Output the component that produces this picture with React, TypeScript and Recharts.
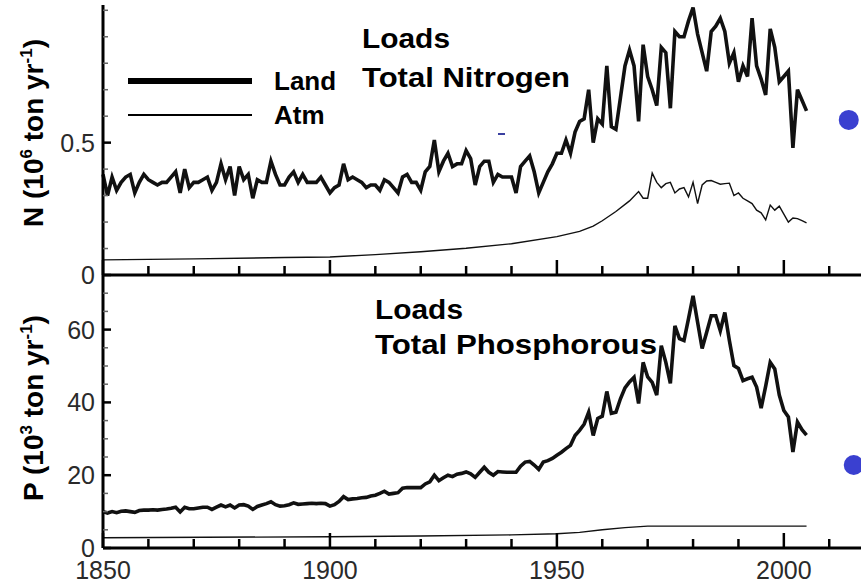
import React from 'react';
import { ComposedChart, Line, Scatter, XAxis, YAxis } from 'recharts';

// annual loads 1850-2005
const years = Array.from({ length: 156 }, (_, i) => 1850 + i);

const nLand = [
  0.38, 0.30, 0.37, 0.32, 0.35, 0.37, 0.38, 0.31, 0.35, 0.38,
  0.36, 0.35, 0.34, 0.35, 0.35, 0.37, 0.39, 0.31, 0.40, 0.33,
  0.35, 0.35, 0.36, 0.37, 0.32, 0.35, 0.42, 0.36, 0.41, 0.30,
  0.41, 0.36, 0.38, 0.29, 0.36, 0.35, 0.35, 0.43, 0.38, 0.34,
  0.34, 0.37, 0.39, 0.35, 0.38, 0.35, 0.35, 0.35, 0.37, 0.34,
  0.31, 0.33, 0.34, 0.42, 0.36, 0.37, 0.36, 0.35, 0.33, 0.34,
  0.34, 0.32, 0.36, 0.35, 0.33, 0.31, 0.37, 0.38, 0.35, 0.35,
  0.32, 0.39, 0.41, 0.51, 0.39, 0.43, 0.46, 0.41, 0.42, 0.42,
  0.47, 0.44, 0.34, 0.41, 0.43, 0.43, 0.35, 0.38, 0.37, 0.37,
  0.37, 0.31, 0.41, 0.43, 0.45, 0.39, 0.31, 0.35, 0.39, 0.42,
  0.46, 0.46, 0.51, 0.46, 0.54, 0.58, 0.59, 0.70, 0.50, 0.59,
  0.57, 0.79, 0.56, 0.55, 0.67, 0.79, 0.85, 0.79, 0.58, 0.87,
  0.75, 0.70, 0.64, 0.86, 0.84, 0.63, 0.92, 0.90, 0.90, 0.96,
  1.01, 0.91, 0.84, 0.77, 0.92, 0.94, 0.97, 0.92, 0.80, 0.84,
  0.73, 0.79, 0.75, 0.97, 0.79, 0.74, 0.68, 0.93, 0.86, 0.73,
  0.75, 0.77, 0.48, 0.70, 0.66, 0.62,
];

const pLand = [
  10.0, 9.6, 10.0, 9.7, 10.1, 10.2, 10.0, 9.8, 10.3, 10.4,
  10.4, 10.5, 10.4, 10.6, 10.7, 10.9, 11.2, 9.9, 11.2, 10.8,
  10.8, 11.0, 11.2, 11.2, 10.6, 11.2, 11.8, 11.3, 11.8, 11.0,
  11.8, 11.9, 11.5, 10.6, 11.4, 11.8, 12.2, 12.7, 11.9, 11.5,
  11.6, 11.9, 12.4, 12.0, 12.1, 12.2, 12.3, 12.2, 12.3, 12.2,
  11.5, 11.9, 12.8, 14.1, 13.3, 13.5, 13.6, 13.8, 13.9, 14.3,
  14.5, 15.0, 15.6, 14.8, 15.0, 15.2, 16.4, 16.6, 16.6, 16.6,
  16.6, 17.6, 18.2, 20.0, 18.5, 19.3, 20.0, 19.6, 20.3, 20.5,
  20.9, 20.4, 19.4, 20.8, 22.2, 20.8, 20.0, 21.0, 20.9, 20.8,
  20.8, 20.8, 22.5, 23.6, 23.8, 22.8, 21.6, 23.6, 24.0, 24.6,
  25.5, 26.3, 27.3, 28.2, 30.9, 32.3, 34.0, 37.3, 30.9, 35.6,
  36.2, 43.0, 37.0, 37.3, 41.0, 44.0, 45.6, 46.9, 39.7, 51.0,
  47.0, 45.5, 42.0, 55.6, 51.0, 45.2, 61.0, 57.5, 57.0, 63.0,
  69.3, 62.0, 54.8, 59.3, 63.8, 63.8, 59.7, 64.7, 57.0, 50.1,
  49.3, 46.0, 46.5, 46.9, 44.2, 38.4, 44.5, 51.0, 49.2, 42.0,
  37.8, 36.0, 26.4, 34.6, 32.5, 31.0,
];

// atmospheric deposition, smooth early part then annual
const nAtmYears = [
  1850, 1870, 1890, 1900, 1910, 1920, 1930, 1940, 1950, 1955, 1958, 1960, 1963, 1966, 1968,
  1969, 1970, 1971, 1972, 1973, 1974, 1975, 1976, 1977, 1978, 1979, 1980, 1981, 1982, 1983,
  1984, 1985, 1986, 1987, 1988, 1989, 1990, 1991, 1992, 1993, 1994, 1995, 1996, 1997, 1998,
  1999, 2000, 2001, 2002, 2003, 2004, 2005,
];
const nAtm = [
  0.057, 0.061, 0.066, 0.068, 0.077, 0.088, 0.101, 0.118, 0.145, 0.165, 0.185, 0.205, 0.24, 0.28, 0.315,
  0.29, 0.29, 0.385, 0.35, 0.33, 0.345, 0.35, 0.31, 0.325, 0.33, 0.295, 0.35, 0.27, 0.34, 0.355,
  0.357, 0.35, 0.343, 0.345, 0.347, 0.30, 0.31, 0.29, 0.28, 0.27, 0.245, 0.235, 0.208, 0.264, 0.245,
  0.26, 0.23, 0.20, 0.215, 0.213, 0.205, 0.197,
];

const pAtmYears = [1850, 1900, 1920, 1940, 1950, 1955, 1960, 1965, 1970, 1980, 1990, 2005];
const pAtm = [2.8, 3.1, 3.3, 3.6, 3.9, 4.3, 5.0, 5.6, 6.0, 6.0, 6.0, 6.0];

const nObsYear = [2014.3];
const nObs = [0.586];
const pObsYear = [2015.4];
const pObs = [22.8];

const yearTicks = [1850, 1860, 1870, 1880, 1890, 1900, 1910, 1920, 1930, 1940, 1950, 1960, 1970, 1980, 1990, 2000, 2010];
const yearLabels = [1850, 1900, 1950, 2000];
const nTicks = [0, 0.1, 0.2, 0.3, 0.4, 0.5, 0.6, 0.7, 0.8, 0.9, 1.0];
const nLabels = [0, 0.5];
const pTicks = [0, 5, 10, 15, 20, 25, 30, 35, 40, 45, 50, 55, 60, 65, 70];
const pLabels = [0, 20, 40, 60];

const pair = (xs: number[], vs: number[]) => xs.map((year, i) => ({ year, value: vs[i] }));

const nLandData = pair(years, nLand);
const pLandData = pair(years, pLand);
const nAtmData = pair(nAtmYears, nAtm);
const pAtmData = pair(pAtmYears, pAtm);
const nObsData = pair(nObsYear, nObs);
const pObsData = pair(pObsYear, pObs);

const FONT = '"Liberation Sans", Arial, sans-serif';
const DOT = '#3a40d0';

const YTick = ({ x, y, payload, labels }: any) => {
  const major = labels.includes(payload.value);
  return (
    <g>
      <line x1={x} x2={x + (major ? 8 : 5)} y1={y} y2={y} stroke={major ? '#000' : '#666'} strokeWidth={major ? 2.5 : 1.5} />
      {major && (
        <text x={x - 8} y={y + 9} textAnchor="end" fontSize={25} fontFamily={FONT} fill="#2a2a2a">
          {payload.value}
        </text>
      )}
    </g>
  );
};

const XTick = ({ x, y, payload, showLabel }: any) => {
  const major = yearLabels.includes(payload.value);
  return (
    <g>
      <line x1={x} x2={x} y1={y} y2={y - (major ? 15 : 9)} stroke="#000" strokeWidth={2.5} />
      {showLabel && major && (
        <text x={x} y={y + 31} textAnchor="middle" fontSize={25} fontFamily={FONT} fill="#2a2a2a">
          {payload.value}
        </text>
      )}
    </g>
  );
};

const dotShape = (p: any) => <circle cx={p.cx} cy={p.cy} r={10} fill={DOT} />;

export default function App() {
  return (
    <div style={{ position: 'absolute', left: 0, top: 0, width: 861, height: 586, overflow: 'hidden', background: '#fff' }}>
      <div style={{ position: 'absolute', left: 0, top: 0 }}>
        <ComposedChart width={861} height={300} margin={{ top: 5, right: 0, bottom: 0, left: 0 }}>
          <XAxis
            type="number"
            dataKey="year"
            domain={[1850, 2017]}
            ticks={yearTicks}
            interval={0}
            height={25}
            tickSize={0}
            tickMargin={0}
            tickLine={false}
            axisLine={{ stroke: '#000', strokeWidth: 3 }}
            tick={(p: any) => <XTick {...p} showLabel={false} />}
          />
          <YAxis
            type="number"
            domain={[0, 1.02]}
            ticks={nTicks}
            interval={0}
            width={103}
            tickSize={0}
            tickMargin={0}
            tickLine={false}
            axisLine={{ stroke: '#000', strokeWidth: 3 }}
            tick={(p: any) => <YTick {...p} labels={nLabels} />}
          />
          <Line data={nAtmData} dataKey="value" stroke="#111" strokeWidth={1.4} dot={false} isAnimationActive={false} />
          <Line data={nLandData} dataKey="value" stroke="#111" strokeWidth={3.6} dot={false} isAnimationActive={false} />
          <Scatter data={nObsData} dataKey="value" shape={dotShape} isAnimationActive={false} />
        </ComposedChart>
      </div>
      <div style={{ position: 'absolute', left: 0, top: 275 }}>
        <ComposedChart width={861} height={311} margin={{ top: 0, right: 0, bottom: 0, left: 0 }}>
          <XAxis
            type="number"
            dataKey="year"
            domain={[1850, 2017]}
            ticks={yearTicks}
            interval={0}
            height={38}
            tickSize={0}
            tickMargin={0}
            tickLine={false}
            axisLine={{ stroke: '#000', strokeWidth: 3 }}
            tick={(p: any) => <XTick {...p} showLabel={true} />}
          />
          <YAxis
            type="number"
            domain={[0, 75]}
            ticks={pTicks}
            interval={0}
            width={103}
            tickSize={0}
            tickMargin={0}
            tickLine={false}
            axisLine={{ stroke: '#000', strokeWidth: 3 }}
            tick={(p: any) => <YTick {...p} labels={pLabels} />}
          />
          <Line data={pAtmData} dataKey="value" stroke="#111" strokeWidth={1.4} dot={false} isAnimationActive={false} />
          <Line data={pLandData} dataKey="value" stroke="#111" strokeWidth={3.6} dot={false} isAnimationActive={false} />
          <Scatter data={pObsData} dataKey="value" shape={dotShape} isAnimationActive={false} />
        </ComposedChart>
      </div>
      <svg width={861} height={586} style={{ position: 'absolute', left: 0, top: 0, pointerEvents: 'none' }} fontFamily={FONT}>
        <g fontWeight="bold" fill="#000" fontSize={27}>
          <text x={362} y={48} textLength={88} lengthAdjust="spacingAndGlyphs">Loads</text>
          <text x={362} y={87} textLength={208} lengthAdjust="spacingAndGlyphs">Total Nitrogen</text>
          <text x={375} y={319} textLength={88} lengthAdjust="spacingAndGlyphs">Loads</text>
          <text x={375} y={354} textLength={282} lengthAdjust="spacingAndGlyphs">Total Phosphorous</text>
          <text x={274} y={90} fontSize={26}>Land</text>
          <text x={274} y={124} fontSize={26}>Atm</text>
        </g>
        <line x1={128} x2={252} y1={81} y2={81} stroke="#000" strokeWidth={6} />
        <line x1={128} x2={252} y1={115} y2={115} stroke="#000" strokeWidth={2} />
        <line x1={498} x2={505} y1={134} y2={134} stroke="#3a40a0" strokeWidth={2} />
        <g fontWeight="bold" fill="#000" fontSize={28}>
          <text x={43} y={133} textAnchor="middle" transform="rotate(-90 43 133)">
            N (10<tspan dy={-11} fontSize={17}>6</tspan>
            <tspan dy={11}> ton yr</tspan>
            <tspan dy={-11} fontSize={17}>-1</tspan>
            <tspan dy={11}>)</tspan>
          </text>
          <text x={43} y={408} textAnchor="middle" transform="rotate(-90 43 408)">
            P (10<tspan dy={-11} fontSize={17}>3</tspan>
            <tspan dy={11}> ton yr</tspan>
            <tspan dy={-11} fontSize={17}>-1</tspan>
            <tspan dy={11}>)</tspan>
          </text>
        </g>
      </svg>
    </div>
  );
}
